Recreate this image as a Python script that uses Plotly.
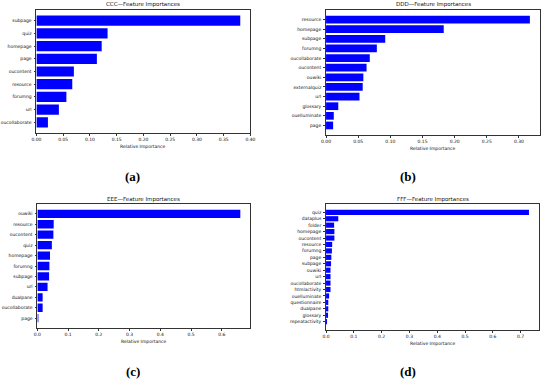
import plotly.graph_objects as go

# ---- data ----
ccc_features = ["subpage", "quiz", "homepage", "page", "oucontent", "resource", "forumng", "url", "oucollaborate"]
ccc_values = [0.381, 0.133, 0.122, 0.113, 0.070, 0.067, 0.056, 0.042, 0.0215]

ddd_features = ["resource", "homepage", "subpage", "forumng", "oucollaborate", "oucontent", "ouwiki",
                "externalquiz", "url", "glossary", "ouelluminate", "page"]
ddd_values = [0.317, 0.183, 0.092, 0.079, 0.068, 0.063, 0.058, 0.057, 0.052, 0.019, 0.012, 0.011]

eee_features = ["ouwiki", "resource", "oucontent", "quiz", "homepage", "forumng", "subpage", "url",
                "dualpane", "oucollaborate", "page"]
eee_values = [0.660, 0.053, 0.052, 0.047, 0.041, 0.039, 0.038, 0.033, 0.017, 0.017, 0.002]

fff_features = ["quiz", "dataplus", "folder", "homepage", "oucontent", "resource", "forumng", "page",
                "subpage", "ouwiki", "url", "oucollaborate", "htmlactivity", "ouelluminate",
                "questionnaire", "dualpane", "glossary", "repeatactivity"]
fff_values = [0.730, 0.044, 0.029, 0.030, 0.030, 0.022, 0.021, 0.019, 0.018, 0.016, 0.016, 0.016,
              0.016, 0.011, 0.008, 0.008, 0.005, 0.001]

titles = ["CCC\u2014Feature Importances", "DDD\u2014Feature Importances",
          "EEE\u2014Feature Importances", "FFF\u2014Feature Importances"]
captions = ["(a)", "(b)", "(c)", "(d)"]
xtick_steps = [0.05, 0.05, 0.1, 0.1]
xtick_fmts = [".2f", ".2f", ".1f", ".1f"]

W, H = 550, 382
# plot-area boxes in pixels (left, right, top, bottom)
boxes = [(32, 250, 10, 133), (327, 545, 10, 135), (33, 250, 204, 328), (327, 544, 204, 330)]
caption_pos = [(130, 176), (410, 176), (130, 371), (410, 371)]

panels = [(ccc_features, ccc_values), (ddd_features, ddd_values),
          (eee_features, eee_values), (fff_features, fff_values)]

fig = go.Figure()
annotations = []
layout = {}
font_family = "DejaVu Sans"

for i, ((feats, vals), box) in enumerate(zip(panels, boxes)):
    n = len(feats)
    xa = "x" if i == 0 else f"x{i+1}"
    ya = "y" if i == 0 else f"y{i+1}"
    fig.add_trace(go.Bar(
        x=vals, y=feats, orientation="h", width=0.8,
        marker=dict(color="#0000ff", line=dict(width=0)),
        xaxis=xa, yaxis=ya, showlegend=False, hoverinfo="x+y"))
    l, r, t, b = box
    xmax = max(vals) * 1.05
    step = xtick_steps[i]
    ticks = []
    v = 0.0
    while v <= xmax + 1e-9:
        ticks.append(round(v, 4))
        v += step
    m = 0.05 * (n - 0.2)
    axis_common = dict(showline=True, linecolor="#333", linewidth=0.8, mirror=True,
                       ticks="outside", ticklen=2, tickwidth=0.6, tickcolor="#333",
                       showgrid=False, zeroline=False,
                       tickfont=dict(family=font_family, size=4.5, color="#111"))
    layout["xaxis" if i == 0 else f"xaxis{i+1}"] = dict(
        domain=[l / W, r / W], anchor=ya, range=[0, xmax],
        tickvals=ticks, tickformat=xtick_fmts[i], **axis_common)
    layout["yaxis" if i == 0 else f"yaxis{i+1}"] = dict(
        domain=[1 - b / H, 1 - t / H], anchor=xa, type="category",
        categoryorder="array", categoryarray=feats,
        range=[n - 0.6 + m, -0.4 - m], ticklabelstandoff=1, **axis_common)
    # title
    annotations.append(dict(text=titles[i], x=(l + r) / 2 / W, y=1 - (t - 5) / H,
                            xref="paper", yref="paper", showarrow=False,
                            xanchor="center", yanchor="middle",
                            font=dict(family=font_family, size=5.5, color="#111")))
    # x label
    annotations.append(dict(text="Relative Importance", x=(l + r) / 2 / W, y=1 - (b + 13) / H,
                            xref="paper", yref="paper", showarrow=False,
                            xanchor="center", yanchor="middle",
                            font=dict(family=font_family, size=4.5, color="#111")))
    cx, cy = caption_pos[i]
    annotations.append(dict(text="<b>" + captions[i] + "</b>", x=cx / W, y=1 - cy / H,
                            xref="paper", yref="paper", showarrow=False,
                            xanchor="center", yanchor="middle",
                            font=dict(family="Liberation Serif", size=13, color="#000")))

fig.update_layout(width=W, height=H, margin=dict(l=0, r=0, t=0, b=0),
                  paper_bgcolor="white", plot_bgcolor="white",
                  bargap=0.2, annotations=annotations, **layout)

fig.write_html("out.html", config={"displayModeBar": False},
               post_script="document.body.style.margin='0';document.body.style.padding='0';")
